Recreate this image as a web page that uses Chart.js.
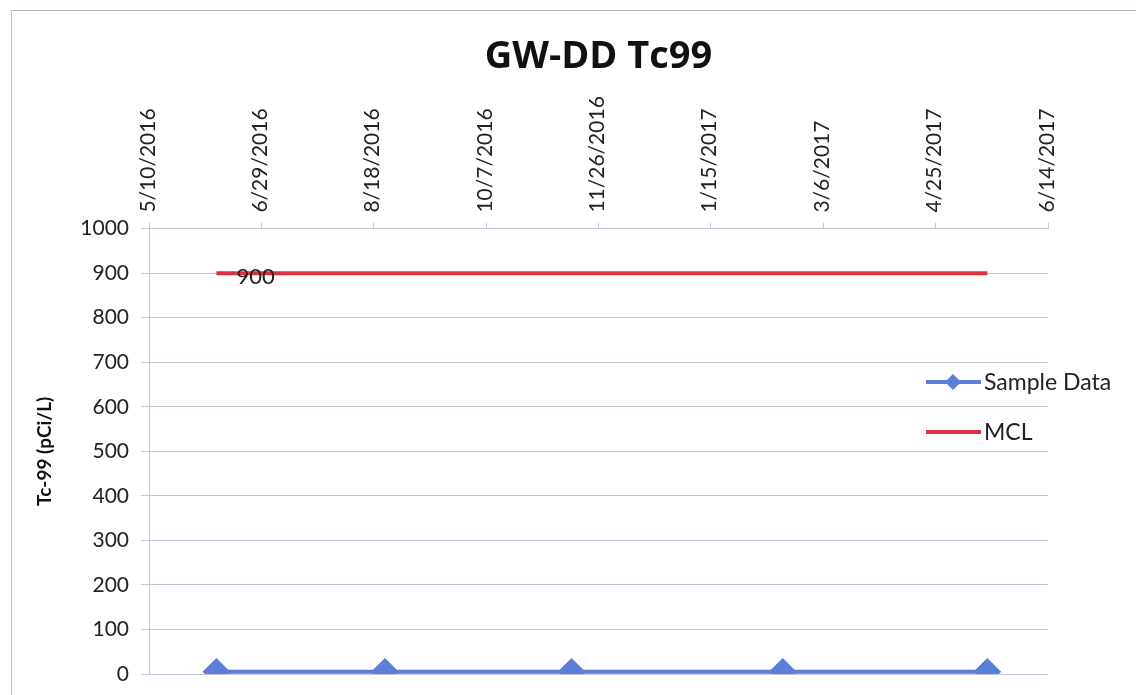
<!DOCTYPE html>
<html>
<head>
<meta charset="utf-8">
<script src="https://cdn.jsdelivr.net/npm/chart.js@4"></script>
<style>
  html, body { margin: 0; padding: 0; background: #fff; }
  #wrap { width: 1136px; height: 695px; }
</style>
</head>
<body>
<div id="wrap"><canvas id="chart" width="1136" height="695"></canvas></div>
<script>
// ===============================
// data
// ===============================
const sampleDates = ['6/9/2016', '8/23/2016', '11/14/2016', '2/16/2017', '5/18/2017'];
const sampleValues = [5, 5, 5, 5, 5];
const mclDates = ['6/9/2016', '5/18/2017'];
const mclValues = [900, 900];
const xTickLabels = ['5/10/2016', '6/29/2016', '8/18/2016', '10/7/2016', '11/26/2016',
                     '1/15/2017', '3/6/2017', '4/25/2017', '6/14/2017'];
const yTicks = [0, 100, 200, 300, 400, 500, 600, 700, 800, 900, 1000];

// date string -> day number (UTC)
function toDay(s) {
    const [m, d, y] = s.split('/').map(Number);
    return Date.UTC(y, m - 1, d) / 86400000;
}
function fromDay(n) {
    const dt = new Date(n * 86400000);
    return (dt.getUTCMonth() + 1) + '/' + dt.getUTCDate() + '/' + dt.getUTCFullYear();
}

const BLUE = '#5b7fd8';
const RED = '#d8333f';
const GRID = '#c3c6d8';
const FONT = 'Lato, "Open Sans", sans-serif';

// "900" label next to first MCL point + hand made legend + frame
const extras = {
    id: 'extras',
    afterDraw(chart) {
        const ctx = chart.ctx;
        ctx.save();
        // outer frame
        ctx.strokeStyle = '#b4b8cc';
        ctx.lineWidth = 1;
        ctx.strokeRect(11.5, 10.5, 1200, 800);

        // data label
        const p = chart.getDatasetMeta(1).data[0];
        ctx.fillStyle = '#222';
        ctx.font = '22px ' + FONT;
        ctx.textAlign = 'left';
        ctx.textBaseline = 'middle';
        ctx.fillText(String(mclValues[0]), p.x + 20, p.y + 4);

        // legend
        const items = chart.data.datasets;
        items.forEach((ds, i) => {
            const y = 382 + i * 50;
            ctx.strokeStyle = ds.borderColor;
            ctx.lineWidth = ds.borderWidth;
            ctx.beginPath();
            ctx.moveTo(926, y);
            ctx.lineTo(981, y);
            ctx.stroke();
            if (ds.pointRadius > 0) {
                ctx.fillStyle = ds.pointBackgroundColor;
                ctx.beginPath();
                ctx.moveTo(953, y - 8);
                ctx.lineTo(961, y);
                ctx.lineTo(953, y + 8);
                ctx.lineTo(945, y);
                ctx.closePath();
                ctx.fill();
            }
            ctx.fillStyle = '#222';
            ctx.font = '23px ' + FONT;
            ctx.fillText(ds.label, 984, y + 1);
        });
        ctx.restore();
    }
};

new Chart(document.getElementById('chart'), {
    type: 'line',
    data: {
        datasets: [{
            label: 'Sample Data',
            data: sampleDates.map((d, i) => ({ x: toDay(d), y: sampleValues[i] })),
            borderColor: BLUE,
            backgroundColor: BLUE,
            pointBackgroundColor: BLUE,
            pointBorderColor: BLUE,
            borderWidth: 4,
            pointStyle: 'rectRot',
            pointRadius: 11,
            tension: 0
        }, {
            label: 'MCL',
            data: mclDates.map((d, i) => ({ x: toDay(d), y: mclValues[i] })),
            borderColor: RED,
            backgroundColor: RED,
            pointBackgroundColor: RED,
            borderWidth: 4,
            pointRadius: 0,
            tension: 0
        }]
    },
    options: {
        responsive: false,
        animation: false,
        layout: { padding: { left: 33, top: 0, right: 88, bottom: 21 } },
        plugins: {
            legend: { display: false },
            tooltip: { enabled: false },
            title: {
                display: true,
                fullSize: false,
                text: 'GW-DD Tc99',
                color: '#111',
                font: { family: '"Open Sans", Lato, sans-serif', size: 38, weight: 'bold' },
                padding: { top: 34, bottom: 0 }
            }
        },
        scales: {
            x: {
                type: 'linear',
                position: 'top',
                min: toDay(xTickLabels[0]),
                max: toDay(xTickLabels[xTickLabels.length - 1]),
                afterBuildTicks: s => { s.ticks = xTickLabels.map(t => ({ value: toDay(t) })); },
                afterFit: s => { s.height = 149; },
                ticks: {
                    minRotation: 90,
                    maxRotation: 90,
                    autoSkip: false,
                    padding: 10,
                    labelOffset: 24,
                    color: '#222',
                    font: { family: FONT, size: 21 },
                    callback: v => fromDay(v)
                },
                grid: { drawOnChartArea: false, color: GRID, tickLength: 6 },
                border: { color: GRID }
            },
            y: {
                min: 0,
                max: 1000,
                afterBuildTicks: s => { s.ticks = yTicks.map(v => ({ value: v })); },
                afterFit: s => { s.width = 116; s.paddingTop = 0; s.paddingBottom = 0; },
                ticks: {
                    padding: 12,
                    color: '#222',
                    font: { family: FONT, size: 21 },
                    callback: v => String(v)
                },
                grid: { color: GRID, tickLength: 8 },
                border: { color: GRID },
                title: {
                    display: true,
                    text: 'Tc-99 (pCi/L)',
                    color: '#111',
                    font: { family: FONT, size: 19, weight: 'bold' },
                    padding: { top: 0, bottom: 8 }
                }
            }
        }
    },
    plugins: [extras]
});
</script>
</body>
</html>
